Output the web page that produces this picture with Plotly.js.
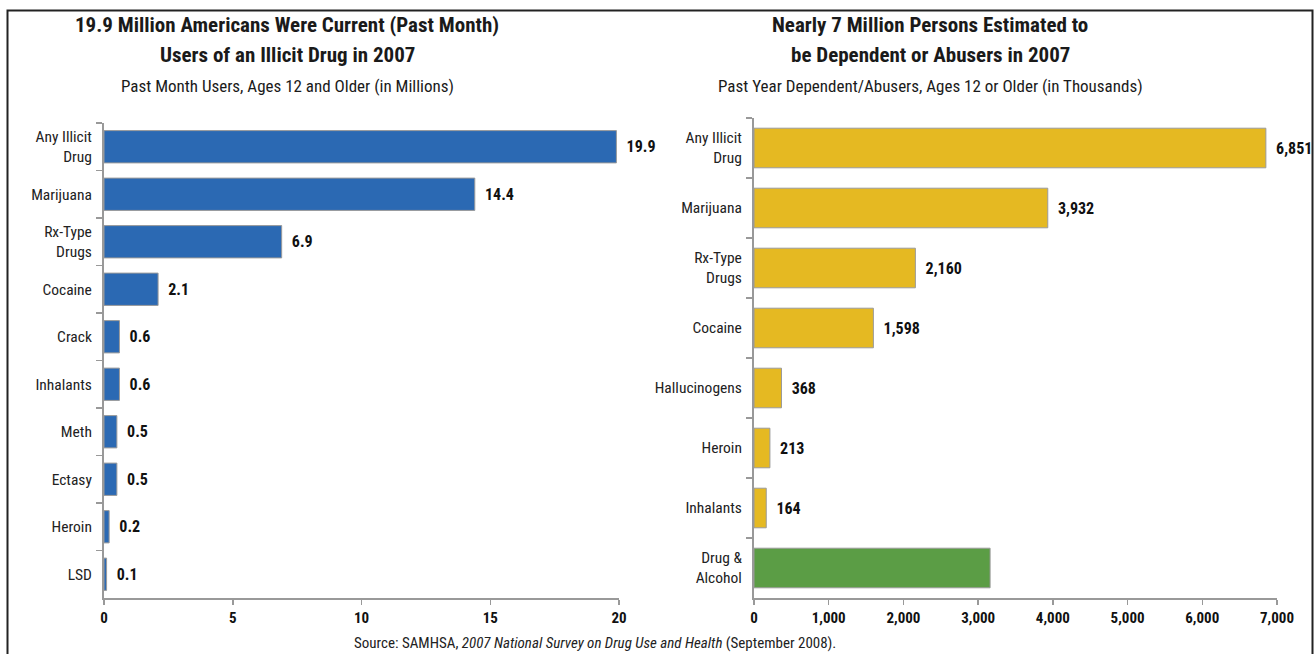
<!DOCTYPE html>
<html><head><meta charset="utf-8">
<script src="https://cdn.plot.ly/plotly-3.0.1.min.js"></script>
<style>html,body{margin:0;padding:0;background:#fff;}#chart{width:1315px;height:654px;}</style>
</head><body><div id="chart"></div>
<script>
const leftCategories = ["Any Illicit<br>Drug","Marijuana","Rx-Type<br>Drugs","Cocaine","Crack","Inhalants","Meth","Ectasy","Heroin","LSD"];
const leftValues = [19.9,14.4,6.9,2.1,0.6,0.6,0.5,0.5,0.2,0.1];
const leftLabels = ["19.9","14.4","6.9","2.1","0.6","0.6","0.5","0.5","0.2","0.1"];
const rightCategories = ["Any Illicit<br>Drug","Marijuana","Rx-Type<br>Drugs","Cocaine","Hallucinogens","Heroin","Inhalants","Drug &<br>Alcohol"];
const rightValues = [6851,3932,2160,1598,368,213,164,3160];
const rightLabels = ["6,851","3,932","2,160","1,598","368","213","164",""];
const rightColors = ["#e5b922","#e5b922","#e5b922","#e5b922","#e5b922","#e5b922","#e5b922","#5b9d45"];
const leftTickVals = [0,5,10,15,20];
const rightTickVals = [0,1000,2000,3000,4000,5000,6000,7000];
const rightTickText = ["0","1,000","2,000","3,000","4,000","5,000","6,000","7,000"];

const FONT = "'Liberation Sans Narrow','Roboto Condensed','Arial Narrow','Liberation Sans',sans-serif";
const W = 1315, H = 654;
const px = x => x / W, py = y => 1 - y / H;
const pad = s => s ? '\u2002' + s : s;

const traces = [
  {type:'bar', orientation:'h', x:leftValues, y:leftCategories, xaxis:'x', yaxis:'y',
   marker:{color:'#2b69b3', line:{color:'#9a9a9a', width:1}}, width:0.68,
   text:leftLabels.map(pad), texttemplate:'%{text}', textposition:'outside', cliponaxis:false,
   textfont:{family:FONT, size:16, color:'#111', weight:'bold'}, hoverinfo:'skip'},
  {type:'bar', orientation:'h', x:rightValues, y:rightCategories, xaxis:'x2', yaxis:'y2',
   marker:{color:rightColors, line:{color:'#9a9a9a', width:1}}, width:0.66,
   text:rightLabels.map(pad), texttemplate:'%{text}', textposition:'outside', cliponaxis:false,
   textfont:{family:FONT, size:16, color:'#111', weight:'bold'}, hoverinfo:'skip'}
];

const xCommon = {showgrid:false, zeroline:false, showline:true, linecolor:'#999', linewidth:2,
  ticks:'outside', ticklen:5, tickcolor:'#999', tickwidth:1.5,
  tickfont:{family:FONT, size:15, color:'#111', weight:'bold'}, fixedrange:true};
const yCommon = {type:'category', autorange:'reversed', showgrid:false, zeroline:false, showline:true,
  linecolor:'#999', linewidth:2, ticks:'outside', ticklen:6, tickcolor:'#999', tickwidth:1.5,
  tickson:'boundaries', ticklabelstandoff:7, tickfont:{family:FONT, size:15.5, color:'#222'}, fixedrange:true};

const layout = {
  width:W, height:H, margin:{l:0,r:0,t:0,b:0}, paper_bgcolor:'#fff', plot_bgcolor:'#fff',
  showlegend:false, bargap:0.3,
  xaxis:Object.assign({}, xCommon, {domain:[px(104), px(619)], range:[0,20], tickvals:leftTickVals, anchor:'y'}),
  yaxis:Object.assign({}, yCommon, {domain:[py(598), py(123)], anchor:'x'}),
  xaxis2:Object.assign({}, xCommon, {domain:[px(754), px(1277)], range:[0,7000], tickvals:rightTickVals, ticktext:rightTickText, anchor:'y2'}),
  yaxis2:Object.assign({}, yCommon, {domain:[py(598), py(118)], anchor:'x2'}),
  shapes:[
    {type:'rect', xref:'paper', yref:'paper', x0:px(7.5), x1:px(1312.5), y0:-0.05, y1:py(10.5),
     line:{color:'#222', width:2}, fillcolor:'rgba(0,0,0,0)'}
  ],
  annotations:[
    {xref:'paper', yref:'paper', x:px(287), y:py(25), text:'<b>19.9 Million Americans Were Current (Past Month)</b>',
     showarrow:false, font:{family:FONT, size:21, color:'#1a1a1a'}, xanchor:'center', yanchor:'middle'},
    {xref:'paper', yref:'paper', x:px(287), y:py(55), text:'<b>Users of an Illicit Drug in 2007</b>',
     showarrow:false, font:{family:FONT, size:21, color:'#1a1a1a'}, xanchor:'center', yanchor:'middle'},
    {xref:'paper', yref:'paper', x:px(287), y:py(86), text:'Past Month Users, Ages 12 and Older (in Millions)',
     showarrow:false, font:{family:FONT, size:17, color:'#1a1a1a'}, xanchor:'center', yanchor:'middle'},
    {xref:'paper', yref:'paper', x:px(930), y:py(25), text:'<b>Nearly 7 Million Persons Estimated to</b>',
     showarrow:false, font:{family:FONT, size:21, color:'#1a1a1a'}, xanchor:'center', yanchor:'middle'},
    {xref:'paper', yref:'paper', x:px(930), y:py(55), text:'<b>be Dependent or Abusers in 2007</b>',
     showarrow:false, font:{family:FONT, size:21, color:'#1a1a1a'}, xanchor:'center', yanchor:'middle'},
    {xref:'paper', yref:'paper', x:px(930), y:py(86), text:'Past Year Dependent/Abusers, Ages 12 or Older (in Thousands)',
     showarrow:false, font:{family:FONT, size:17, color:'#1a1a1a'}, xanchor:'center', yanchor:'middle'},
    {xref:'paper', yref:'paper', x:px(595), y:py(643), text:'Source: SAMHSA, <i>2007 National Survey on Drug Use and Health</i> (September 2008).',
     showarrow:false, font:{family:FONT, size:15, color:'#222'}, xanchor:'center', yanchor:'middle'}
  ]
};

Plotly.newPlot('chart', traces, layout, {displayModeBar:false, staticPlot:true});
</script>
</body></html>
